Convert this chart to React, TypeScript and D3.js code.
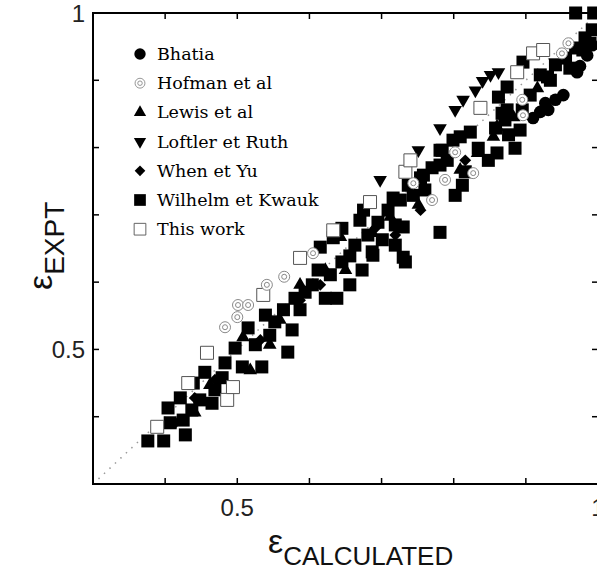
import React from "react";
import * as d3 from "d3";

type P = [number, number];

const bhatia: P[] = [
  [0.952, 0.878], [0.927, 0.866], [0.92, 0.853], [0.91, 0.844], [0.931, 0.856],
  [0.975, 0.921], [0.985, 0.937], [0.971, 0.912], [0.941, 0.871], [0.992, 0.952],
];
const hofman: P[] = [
  [0.483, 0.533], [0.5, 0.548], [0.501, 0.566], [0.515, 0.566], [0.541, 0.596],
  [0.565, 0.608], [0.605, 0.643], [0.744, 0.747], [0.77, 0.722], [0.788, 0.752],
  [0.802, 0.793], [0.827, 0.762], [0.895, 0.871], [0.896, 0.848], [0.95, 0.94], [0.959, 0.955],
];
const lewis: P[] = [
  [0.508, 0.518], [0.518, 0.469], [0.559, 0.544], [0.587, 0.596], [0.643, 0.667],
  [0.65, 0.618], [0.712, 0.697], [0.751, 0.715], [0.833, 0.792], [0.855, 0.816],
  [0.86, 0.831], [0.883, 0.845], [0.916, 0.888], [0.809, 0.767], [0.687, 0.673],
  [0.622, 0.618], [0.545, 0.507], [0.462, 0.447], [0.441, 0.406],
];
const loftler: P[] = [
  [0.698, 0.752], [0.751, 0.796], [0.781, 0.829], [0.802, 0.856], [0.813, 0.871],
  [0.83, 0.885], [0.84, 0.899], [0.851, 0.908], [0.862, 0.912],
];
const whenYu: P[] = [
  [0.754, 0.707], [0.691, 0.68], [0.656, 0.64], [0.587, 0.573], [0.532, 0.514],
  [0.469, 0.455], [0.441, 0.428], [0.414, 0.391], [0.615, 0.596], [0.719, 0.67], [0.816, 0.781],
];
const thisWork: P[] = [
  [0.389, 0.385], [0.432, 0.45], [0.458, 0.495], [0.486, 0.425], [0.494, 0.444],
  [0.536, 0.581], [0.587, 0.636], [0.633, 0.677], [0.684, 0.719], [0.733, 0.764],
  [0.74, 0.781], [0.837, 0.859], [0.888, 0.912], [0.91, 0.94], [0.924, 0.945],
];
const wilhelm: P[] = [
  [0.376, 0.364], [0.398, 0.364], [0.428, 0.373], [0.407, 0.391], [0.425, 0.395],
  [0.404, 0.413], [0.437, 0.41], [0.421, 0.428], [0.439, 0.45], [0.455, 0.466],
  [0.448, 0.425], [0.465, 0.42], [0.469, 0.44], [0.483, 0.48], [0.479, 0.458],
  [0.497, 0.502], [0.507, 0.474], [0.515, 0.532], [0.525, 0.507], [0.534, 0.474],
  [0.539, 0.551], [0.545, 0.521], [0.552, 0.541], [0.564, 0.559], [0.57, 0.496],
  [0.576, 0.529], [0.58, 0.576], [0.587, 0.559], [0.594, 0.585], [0.604, 0.596],
  [0.612, 0.618], [0.622, 0.576], [0.629, 0.611], [0.638, 0.576], [0.645, 0.63],
  [0.656, 0.639], [0.663, 0.655], [0.673, 0.618], [0.681, 0.67], [0.688, 0.64],
  [0.695, 0.689], [0.701, 0.663], [0.709, 0.707], [0.719, 0.685], [0.726, 0.722],
  [0.733, 0.63], [0.737, 0.744], [0.744, 0.729], [0.754, 0.755], [0.76, 0.737],
  [0.77, 0.77], [0.781, 0.674], [0.781, 0.796], [0.791, 0.781], [0.799, 0.811],
  [0.812, 0.744], [0.823, 0.823], [0.834, 0.799], [0.848, 0.781], [0.858, 0.829],
  [0.867, 0.851], [0.876, 0.819], [0.885, 0.799], [0.895, 0.856], [0.906, 0.878],
  [0.92, 0.908], [0.934, 0.9], [0.941, 0.923], [0.955, 0.933], [0.969, 0.948],
  [0.982, 0.963], [0.992, 0.975], [0.969, 1.0], [0.994, 1.0], [0.871, 0.841],
  [0.802, 0.729], [0.816, 0.764], [0.719, 0.655], [0.656, 0.596],
  [0.896, 0.927], [0.874, 0.89], [0.862, 0.875], [0.874, 0.856], [0.892, 0.826],
  [0.86, 0.792], [0.809, 0.816], [0.784, 0.796], [0.93, 0.905], [0.961, 0.918],
  [0.979, 0.945], [0.989, 0.955],
  [0.781, 0.774], [0.758, 0.759], [0.716, 0.725], [0.675, 0.707], [0.67, 0.692],
  [0.73, 0.682], [0.645, 0.68], [0.633, 0.666], [0.615, 0.652], [0.687, 0.645], [0.73, 0.637],
];

const legendLabels = [
  "Bhatia", "Hofman et al", "Lewis et al", "Loftler et Ruth",
  "When et Yu", "Wilhelm et Kwauk", "This work",
];
const xTicks = [0.4, 0.5, 0.6, 0.7, 0.8, 0.9];
const yTicks = [0.4, 0.5, 0.6, 0.7, 0.8, 0.9];
const xLabelTicks = [0.5, 1];
const yLabelTicks = [0.5, 1];

const W = 597, H = 574;
const L = 93, R = 598, T = 13, B = 484;
const x = d3.scaleLinear().domain([0.3, 1.0]).range([L, R]);
const y = d3.scaleLinear().domain([0.3, 1.0]).range([B, T]);

const S = 13;
const sym = {
  circle: d3.symbol().type(d3.symbolCircle).size(Math.PI * 6.3 * 6.3)(),
  square: d3.symbol().type(d3.symbolSquare).size(S * S)(),
  tri: d3.symbol().type(d3.symbolTriangle).size(80)(),
  diamond: d3.symbol().type(d3.symbolSquare).size(70)(),
};

function Mark({ kind, cx, cy, scale = 1 }: { kind: string; cx: number; cy: number; scale?: number }) {
  const t = `translate(${cx},${cy}) scale(${scale})`;
  switch (kind) {
    case "bhatia":
      return <path d={sym.circle} transform={t} fill="#000" />;
    case "hofman":
      return (
        <g transform={t} fill="#fff" stroke="#8a8a8a" strokeWidth={1}>
          <circle r={5.5} />
          <circle r={2.5} fill="none" />
        </g>
      );
    case "lewis":
      return <path d={sym.tri} transform={t} fill="#000" />;
    case "loftler":
      return <path d={sym.tri} transform={`${t} rotate(180)`} fill="#000" />;
    case "when":
      return <path d={sym.diamond} transform={`${t} rotate(45)`} fill="#000" />;
    case "wilhelm":
      return <path d={sym.square} transform={t} fill="#000" />;
    case "this":
      return <path d={sym.square} transform={t} fill="#fff" stroke="#555" strokeWidth={1} />;
  }
  return null;
}

const series: { kind: string; data: P[] }[] = [
  { kind: "wilhelm", data: wilhelm },
  { kind: "lewis", data: lewis },
  { kind: "when", data: whenYu },
  { kind: "loftler", data: loftler },
  { kind: "bhatia", data: bhatia },
  { kind: "this", data: thisWork },
  { kind: "hofman", data: hofman },
];
const legendKinds = ["bhatia", "hofman", "lewis", "loftler", "when", "wilhelm", "this"];

export default function App() {
  const tick = 6;
  return (
    <svg width={W} height={H} style={{ position: "absolute", left: 0, top: 0, background: "#fff" }}
      fontFamily="'Liberation Sans', Arial, sans-serif">
      <rect width={W} height={H} fill="#fff" />
      <line x1={x(0.3)} y1={y(0.3)} x2={x(1)} y2={y(1)} stroke="#999" strokeWidth={1.5} strokeDasharray="1.5,6" />
      {series.map((s) =>
        s.data.map((d, i) => <Mark key={s.kind + i} kind={s.kind} cx={x(d[0])} cy={y(d[1])} />)
      )}
      <rect x={L} y={T} width={R - L} height={B - T} fill="none" stroke="#000" strokeWidth={2} />
      {xTicks.map((v) => (
        <g key={"xt" + v}>
          <line x1={x(v)} x2={x(v)} y1={B} y2={B - tick} stroke="#000" strokeWidth={1.5} />
          <line x1={x(v)} x2={x(v)} y1={T} y2={T + tick} stroke="#000" strokeWidth={1.5} />
        </g>
      ))}
      {yTicks.map((v) => (
        <g key={"yt" + v}>
          <line x1={L} x2={L + tick} y1={y(v)} y2={y(v)} stroke="#000" strokeWidth={1.5} />
          <line x1={R} x2={R - tick} y1={y(v)} y2={y(v)} stroke="#000" strokeWidth={1.5} />
        </g>
      ))}
      {xLabelTicks.map((v) => (
        <text key={"xl" + v} x={x(v)} y={B + 32} fontSize={24} textAnchor="middle" fill="#222">
          {v === 1 ? "1" : "0.5"}
        </text>
      ))}
      {yLabelTicks.map((v) => (
        <text key={"yl" + v} x={L - 8} y={y(v) + 9} fontSize={24} textAnchor="end" fill="#222">
          {v === 1 ? "1" : "0.5"}
        </text>
      ))}
      <text x={268} y={553} fontSize={34} fill="#111">
        ε<tspan fontSize={26} dy={12}>CALCULATED</tspan>
      </text>
      <text transform="translate(52,290) rotate(-90)" fontSize={34} fill="#111">
        ε<tspan fontSize={28} dy={12}>EXPT</tspan>
      </text>
      {legendLabels.map((lab, i) => {
        const ly = 54 + i * 29.2;
        return (
          <g key={lab}>
            <Mark kind={legendKinds[i]} cx={140} cy={ly} scale={0.9} />
            <text x={157} y={ly + 6} fontSize={17.5} fontFamily="'DejaVu Serif', serif" fill="#000">
              {lab}
            </text>
          </g>
        );
      })}
    </svg>
  );
}
